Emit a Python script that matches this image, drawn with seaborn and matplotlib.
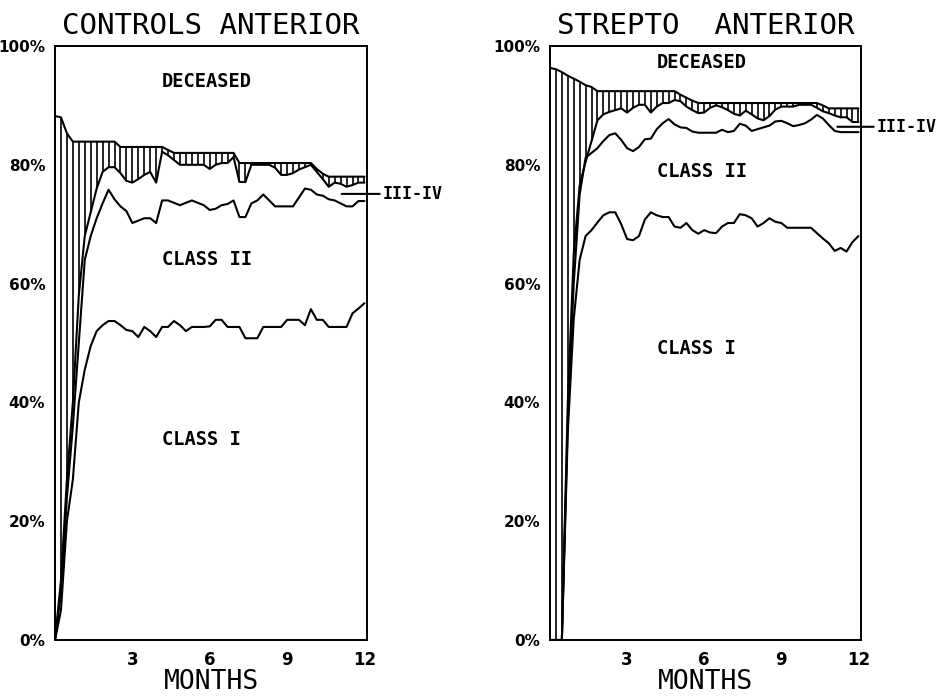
import numpy as np
import pandas as pd
import matplotlib
matplotlib.use("Agg")
import matplotlib.pyplot as plt
import seaborn as sns

# Weekly follow-up over one year (week 0 .. 52), shown in months
weeks = np.arange(53)
months = weeks * 12 / 52

# ---- Controls, anterior infarction (cumulative % of patients) ----
ctrl_class1_top = [0, 5, 20, 27, 40, 45.5, 49.5, 52, 53, 53.7, 53.7, 53, 52.2, 52, 51, 52.7, 52, 51, 52.7, 52.7,
                   53.7, 53, 52, 52.7, 52.7, 52.7, 52.8, 53.9, 53.9, 52.7, 52.7, 52.7, 50.8, 50.8, 50.8, 52.7, 52.7,
                   52.7, 52.7, 53.9, 53.9, 53.9, 53, 55.7, 53.9, 53.9, 52.7, 52.7, 52.7, 52.7, 55, 55.8, 56.7]
ctrl_class2_top = [0, 8, 24, 36, 50, 64, 68, 71, 73.5, 75.8, 74.2, 73, 72.2, 70.2, 70.6, 71, 71, 70.2, 74, 74,
                   73.6, 73.2, 73.6, 74, 73.6, 73.2, 72.4, 72.6, 73.2, 73.4, 74, 71.2, 71.2, 73.5, 74, 75, 74,
                   73, 73, 73, 73, 74.5, 76, 75.8, 75, 74.8, 74.2, 74, 73.5, 73, 73, 73.9, 73.9]
ctrl_class34_top = [0, 10, 27, 40, 58, 68, 72, 76, 78.8, 79.6, 79.6, 78.6, 77.3, 77, 77.6, 78.3, 78.8, 77, 82.2, 81.6,
                    80.8, 80, 80, 80, 80, 80, 79.3, 80, 80.3, 80.3, 81.3, 77.1, 77.1, 80, 80, 80, 80, 79.5, 78.3, 78.3,
                    78.6, 79.2, 79.6, 80, 78.8, 77.6, 76.3, 77, 76.8, 76.3, 76.6, 77, 77]
ctrl_alive = [88.2, 88, 85.3] + [83.9] * 8 + [83] * 8 + [82.5] + [82] * 11 + [80.3] * 13 + [79.3, 78.5] + [78] * 7

# ---- Streptokinase, anterior infarction ----
strep_class1_top = [0, 0, 0, 35, 54, 64, 68, 69, 70.3, 71.5, 72, 72, 70, 67.5, 67.3, 68, 70.8, 72, 71.5, 71.2,
                    71.2, 69.6, 69.4, 70.2, 69, 68.4, 69, 68.6, 68.5, 69.6, 70.2, 70.2, 71.7, 71.5, 71, 69.6, 70.2,
                    71, 70.4, 70.2, 69.4, 69.4, 69.4, 69.4, 69.4, 68.5, 67.6, 66.8, 65.5, 66, 65.4, 67, 68]
strep_class2_top = [0, 0, 0, 37, 60, 75, 81.2, 82, 82.8, 84, 85, 85.3, 84.2, 82.8, 82.3, 83, 84.3, 84.4, 86, 87,
                    87.7, 86.8, 86.3, 86.2, 85.6, 85.4, 85.4, 85.4, 85.4, 85.9, 85.5, 85.7, 86.9, 86.6, 85.7, 86,
                    86.3, 86.6, 87.3, 87.4, 87, 86.5, 86.7, 87, 87.6, 88.4, 87.8, 86.7, 85.7, 85.5, 85.5, 85.5, 85.5]
strep_class34_top = [0, 0, 0, 40, 65, 76.5, 80.5, 84, 87.5, 88.5, 88.9, 89.2, 89.5, 88.8, 89.6, 90.1, 90.1, 88.8, 89.8,
                     90.4, 90.4, 90.9, 90.7, 89.8, 89.2, 88.7, 88.8, 89.6, 90, 89.7, 89.2, 88.6, 88.3, 89.1, 88.5,
                     87.8, 87.5, 88.2, 89.3, 89.8, 89.8, 89.8, 90.1, 90.1, 90.1, 89.6, 89, 88.7, 88.3, 88, 88, 87.2,
                     87.2]
strep_alive = [96.3, 96.1, 95.6, 95, 94.5, 94, 93.4, 93.1] + [92.4] * 14 + [91.8, 91.3, 90.8] + [90.4] * 21 + \
              [90] + [89.5] * 6

y_ticks = [0, 20, 40, 60, 80, 100]
y_labels = ["0%", "20%", "40%", "60%", "80%", "100%"]
x_ticks = [3, 6, 9, 12]
x_labels = ["3", "6", "9", "12"]

panels = [
    dict(title="CONTROLS ANTERIOR", c1=ctrl_class1_top, c2=ctrl_class2_top, c34=ctrl_class34_top,
         alive=ctrl_alive, labels=[("DECEASED", 94), ("CLASS II", 64), ("CLASS I", 33.8)], ptr=(11.12, 75.1)),
    dict(title="STREPTO  ANTERIOR", c1=strep_class1_top, c2=strep_class2_top, c34=strep_class34_top,
         alive=strep_alive, labels=[("DECEASED", 97.3), ("CLASS II", 78.8), ("CLASS I", 49)], ptr=(11.18, 86.4)),
]

sns.set_theme(style="white")
plt.rcParams["font.family"] = ["DejaVu Sans"]
plt.rcParams["text.color"] = "black"
plt.rcParams["axes.labelcolor"] = "black"
plt.rcParams["xtick.color"] = "black"
plt.rcParams["ytick.color"] = "black"

fig = plt.figure(figsize=(9.51, 6.98), dpi=100)
ax_left = fig.add_axes([55 / 951, 58 / 698, 312 / 951, 594 / 698])
ax_right = fig.add_axes([550 / 951, 58 / 698, 311 / 951, 594 / 698])

mono = "DejaVu Sans Mono"

for ax, p in zip([ax_left, ax_right], panels):
    df = pd.DataFrame({"month": months, "class1": p["c1"], "class2": p["c2"],
                       "class34": p["c34"], "alive": p["alive"]})

    # weekly hatching for patients not yet classified
    ax.vlines(df["month"], df["class34"], df["alive"], color="black", lw=1.2, zorder=2)

    for col in ["class1", "class2", "class34", "alive"]:
        sns.lineplot(data=df, x="month", y=col, ax=ax, color="black", lw=1.5,
                     estimator=None, sort=False, zorder=3)

    ax.set_xlim(0, 12.1)
    ax.set_ylim(0, 100)
    ax.set_yticks(y_ticks)
    ax.set_yticklabels(y_labels, fontsize=11, fontweight="bold", color="black")
    ax.set_xticks(x_ticks)
    ax.set_xticklabels(x_labels, fontsize=12, fontweight="bold", color="black")
    ax.tick_params(axis="y", direction="out", length=6, width=1.2, pad=1, color="black")
    ax.tick_params(axis="x", length=0, pad=8)
    for s in ax.spines.values():
        s.set_color("black")
        s.set_linewidth(1.4)
    ax.set_xlabel("MONTHS", fontfamily=mono, fontsize=19, labelpad=0, color="black")
    ax.set_ylabel("")
    ax.set_title(p["title"], fontfamily=mono, fontsize=21, pad=9, color="black")

    for txt, yv in p["labels"]:
        ax.text(4.15, yv, txt, ha="left", va="center", fontfamily=mono,
                fontweight="bold", fontsize=13.5, color="black")

    ax.annotate("III-IV", xy=p["ptr"], xytext=(12.72, p["ptr"][1]), va="center", ha="left",
                fontfamily=mono, fontweight="bold", fontsize=12, annotation_clip=False, color="black",
                arrowprops=dict(arrowstyle="-", lw=1.5, color="black", shrinkA=0, shrinkB=0))

fig.savefig("out.png", dpi=100, facecolor="white")
